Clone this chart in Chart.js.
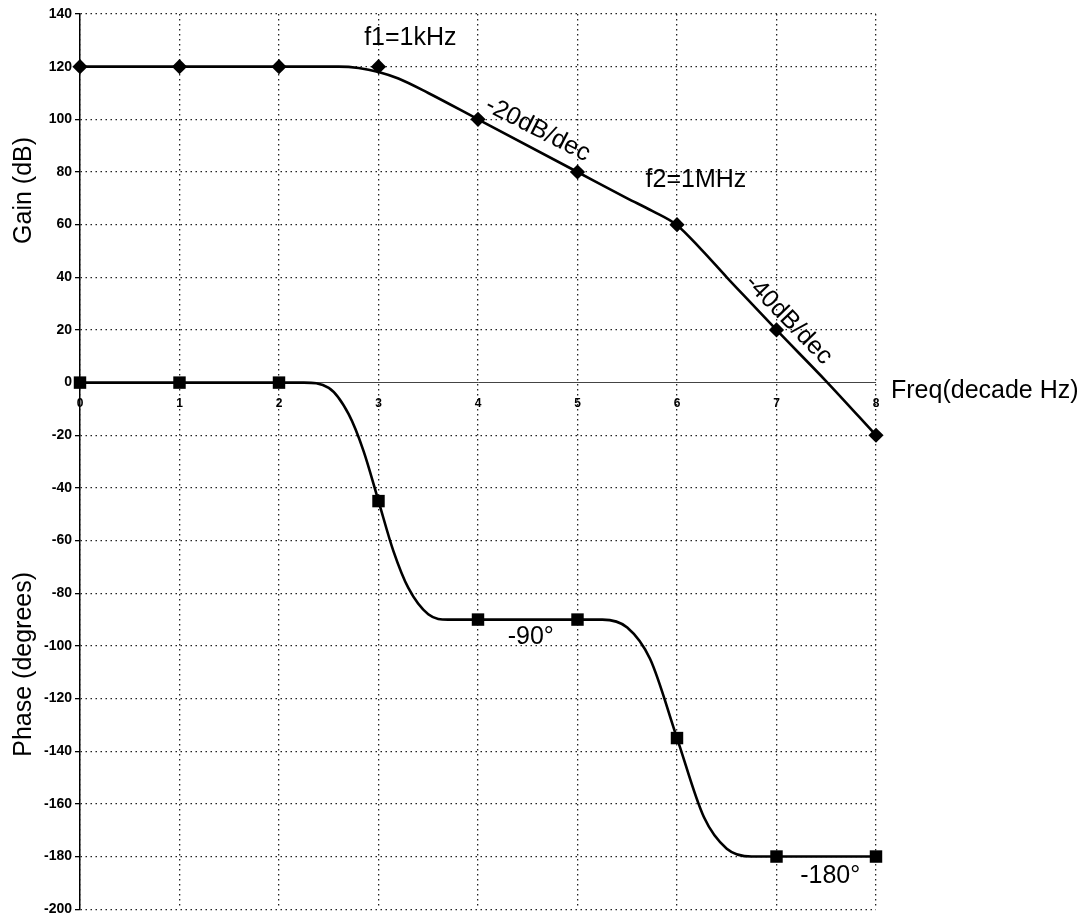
<!DOCTYPE html>
<html>
<head>
<meta charset="utf-8">
<script src="https://cdn.jsdelivr.net/npm/chart.js@4.4.1/dist/chart.umd.min.js"></script>
<style>
  html, body { margin: 0; padding: 0; background: #fff; }
  canvas { display: block; }
</style>
</head>
<body>
<canvas id="bode" width="1090" height="918"></canvas>
<script>
// Frequency in decades (log10 Hz) where the marker points sit
const decades = [0, 1, 2, 3, 4, 5, 6, 7, 8];

// Asymptotic Bode values at each decade
const gainMarkers  = [120, 120, 120, 120, 100, 80, 60, 20, -20];
const phaseMarkers = [0, 0, 0, -45, -90, -90, -135, -180, -180];

// Smoothed response curves
const gainCurveX  = [0, 1, 2, 2.6, 2.8, 3, 3.2, 3.5, 4, 5, 5.5, 5.75, 6, 6.25, 6.5, 6.75, 7, 7.5, 8];
const gainCurveDb = [120, 120, 120, 120, 119.5, 118, 115.5, 110, 100, 80, 70, 65.2, 59.8, 50.3, 40, 30, 20, 0.5, -20];

const phaseCurveX   = [0, 1, 2, 2.25, 2.5, 2.7, 2.85, 3, 3.15, 3.3, 3.5, 3.7, 4, 5, 5.25, 5.5, 5.73, 6, 6.27, 6.5, 6.75, 7, 8];
const phaseCurveDeg = [0, 0, 0, 0, -2, -12, -26, -45, -64, -78, -88, -90, -90, -90, -90, -93, -105, -135, -165, -177, -180, -180, -180];

// Vertical axis ticks (shared by gain in dB and phase in degrees)
const yTickValues = [140, 120, 100, 80, 60, 40, 20, 0, -20, -40, -60, -80, -100, -120, -140, -160, -180, -200];

// Callout texts, anchored in data units (decade, value) with rotation in degrees
const noteTexts = ['f1=1kHz', '-20dB/dec', 'f2=1MHz', '-40dB/dec', '-90°', '-180°'];
const noteX     = [3.32, 4.60, 6.19, 7.12, 4.53, 7.54];
const noteY     = [131, 96.1, 77.1, 23.9, -96.5, -187.6];
const noteAngle = [0, 27, 0, 46, 0, 0];

const gainTitle  = 'Gain (dB)';
const phaseTitle = 'Phase (degrees)';
const freqTitle  = 'Freq(decade Hz)';

const FONT = "'Liberation Sans', Arial, Helvetica, sans-serif";
const DOTS = [1.5, 3.5];

const toPoints = (xs, ys) => xs.map((x, i) => ({ x: x, y: ys[i] }));

const bodeDecor = {
  id: 'bodeDecor',
  beforeDraw(chart) {
    const ctx = chart.ctx;
    ctx.save();
    ctx.fillStyle = '#fff';
    ctx.fillRect(0, 0, chart.width, chart.height);
    ctx.restore();
  },
  afterDatasetsDraw(chart) {
    const { ctx, scales: { x, y }, chartArea } = chart;
    const y0 = y.getPixelForValue(0);
    ctx.save();
    ctx.fillStyle = '#000';

    // decade numbers under the 0 line
    ctx.font = 'bold 12px ' + FONT;
    ctx.textAlign = 'center';
    ctx.textBaseline = 'middle';
    decades.forEach(d => ctx.fillText(String(d), x.getPixelForValue(d), y0 + 21));

    // frequency axis title to the right of the plot
    ctx.font = '25px ' + FONT;
    ctx.textAlign = 'left';
    ctx.textBaseline = 'alphabetic';
    ctx.fillText(freqTitle, chartArea.right + 15, y0 + 15);

    // vertical titles
    ctx.textAlign = 'center';
    ctx.textBaseline = 'middle';
    [[gainTitle, 73], [phaseTitle, -107]].forEach(([t, v]) => {
      ctx.save();
      ctx.translate(24, y.getPixelForValue(v));
      ctx.rotate(-Math.PI / 2);
      ctx.fillText(t, 0, 0);
      ctx.restore();
    });

    // callouts
    noteTexts.forEach((t, i) => {
      ctx.save();
      ctx.translate(x.getPixelForValue(noteX[i]), y.getPixelForValue(noteY[i]));
      ctx.rotate(noteAngle[i] * Math.PI / 180);
      ctx.fillText(t, 0, 0);
      ctx.restore();
    });
    ctx.restore();
  }
};

new Chart(document.getElementById('bode'), {
  type: 'scatter',
  data: {
    datasets: [
      {
        label: 'Gain',
        data: toPoints(decades, gainMarkers),
        showLine: false,
        pointStyle: 'rectRot',
        pointRadius: 7.6,
        backgroundColor: '#000',
        borderColor: '#000',
        borderWidth: 0,
        clip: false
      },
      {
        label: 'Phase',
        data: toPoints(decades, phaseMarkers),
        showLine: false,
        pointStyle: 'rect',
        pointRadius: 8.8,
        backgroundColor: '#000',
        borderColor: '#000',
        borderWidth: 0,
        clip: false
      },
      {
        label: 'Gain curve',
        data: toPoints(gainCurveX, gainCurveDb),
        showLine: true,
        pointRadius: 0,
        borderColor: '#000',
        borderWidth: 2.6,
        cubicInterpolationMode: 'monotone',
        fill: false,
        clip: false
      },
      {
        label: 'Phase curve',
        data: toPoints(phaseCurveX, phaseCurveDeg),
        showLine: true,
        pointRadius: 0,
        borderColor: '#000',
        borderWidth: 2.6,
        cubicInterpolationMode: 'monotone',
        fill: false,
        clip: false
      }
    ]
  },
  options: {
    responsive: false,
    animation: false,
    events: [],
    layout: { padding: { top: 14, right: 214, bottom: 8, left: 0 } },
    plugins: {
      legend: { display: false },
      tooltip: { enabled: false },
      title: { display: false }
    },
    scales: {
      x: {
        type: 'linear',
        min: 0,
        max: 8,
        ticks: { display: false, stepSize: 1 },
        grid: { drawTicks: false, color: '#222', lineWidth: 1.3 },
        border: { display: false, dash: DOTS },
        afterFit: s => { s.height = 0; s.paddingLeft = 0; s.paddingRight = 0; }
      },
      y: {
        type: 'linear',
        min: -200,
        max: 140,
        afterBuildTicks: s => { s.ticks = yTickValues.map(v => ({ value: v })); },
        ticks: {
          color: '#000',
          padding: 3,
          font: { family: FONT, size: 14, weight: 'bold' }
        },
        grid: {
          color: c => (c.tick && c.tick.value === 0) ? '#444' : '#222',
          lineWidth: c => (c.tick && c.tick.value === 0) ? 1 : 1.3,
          drawTicks: true,
          tickLength: 5,
          tickColor: '#000',
          tickWidth: 1.3,
          tickBorderDash: []
        },
        border: {
          display: true,
          color: '#000',
          width: 1.5,
          dash: c => (c.tick && c.tick.value === 0) ? [] : DOTS
        },
        afterFit: s => { s.width = 80; s.paddingTop = 0; s.paddingBottom = 0; }
      }
    }
  },
  plugins: [bodeDecor]
});
</script>
</body>
</html>
